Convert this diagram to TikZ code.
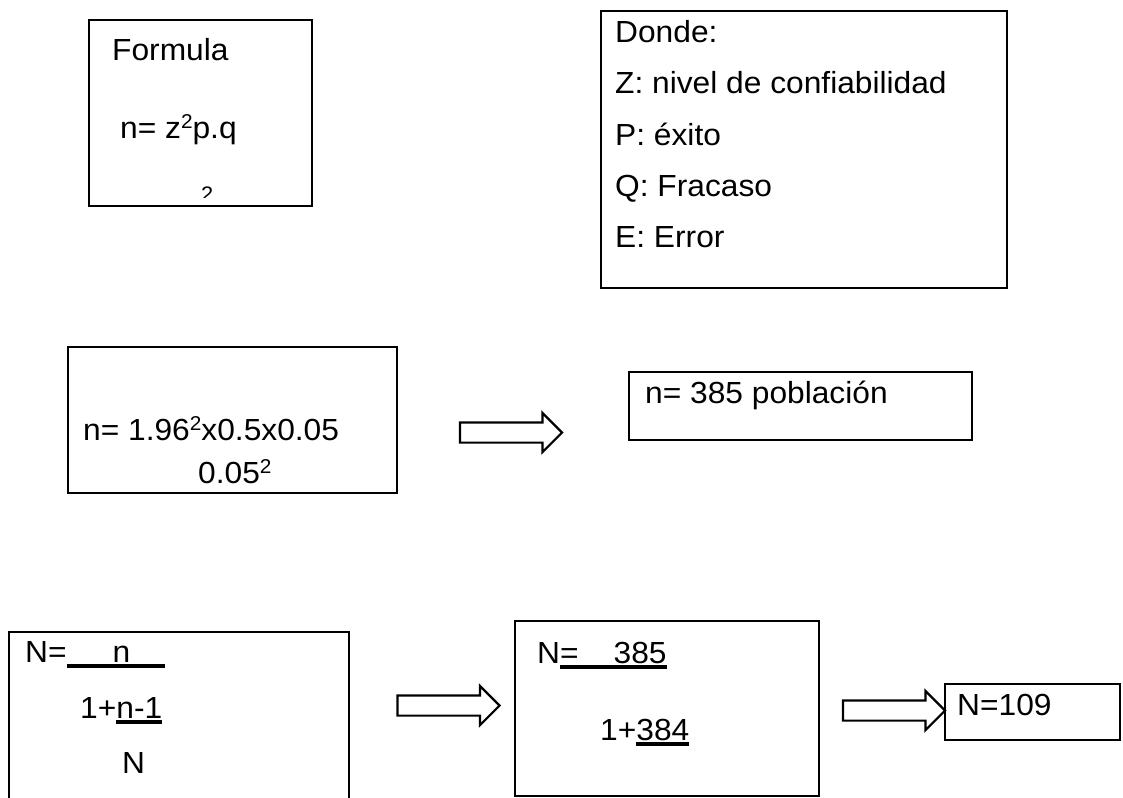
\documentclass[tikz,border=0pt]{standalone}
\usepackage{fontspec}
\setmainfont{Liberation Sans}[FakeStretch=1.04]
\usetikzlibrary{shapes.arrows}

\newlength\ulwd
\newcommand\ulbar[1]{\settowidth\ulwd{#1}\rlap{\rule[-5.5bp]{\ulwd}{3.3bp}}#1}
\newcommand\sqr[1]{\raisebox{10bp}{\fontsize{20bp}{20bp}\selectfont #1}}

\begin{document}
\begin{tikzpicture}[
    x=1bp, y=-1bp,
    box/.style={rectangle, draw, line width=2.6bp, inner sep=0pt},
    txt/.style={anchor=base west, inner sep=0pt, font=\fontsize{30.5bp}{36bp}\selectfont},
    fatarrow/.style={
        single arrow, draw, line width=2.2bp, inner xsep=0pt, inner ysep=9bp,
        minimum height=102bp, single arrow head extend=9.5bp
    }
]

% Page
\clip (0,0) rectangle (1123,798);

% Formula
\node[box, minimum width=223bp, minimum height=186bp] (fbox) at (200.5,113) {};
\node[txt] (ftitle) at (112,61) {Formula};
\node[txt] (fexpr) at (120,138) {n= z\sqr{2}p.q};
\begin{scope}
    \clip (190,178) rectangle (230,197);
    \node[txt, font=\fontsize{21bp}{24bp}\selectfont] (fsq) at (201,201) {2};
\end{scope}

% Donde
\node[box, minimum width=406bp, minimum height=277bp] (dbox) at (804,149.5) {};
\node[txt] (dhead) at (615,43) {Donde:};
\node[txt] (dz) at (615,94) {Z: nivel de confiabilidad};
\node[txt] (dp) at (615,145) {P: éxito};
\node[txt] (dq) at (615,196) {Q: Fracaso};
\node[txt] (de) at (615,247) {E: Error};

% Sample size
\node[box, minimum width=329bp, minimum height=146bp] (nbox) at (232.5,420) {};
\node[txt] (nnum) at (83,440) {n= 1.96\sqr{2}x0.5x0.05};
\node[txt] (nden) at (198,483) {0.05\sqr{2}};
\node[fatarrow] (arr1) at (506,432.5) {};
\node[box, minimum width=343bp, minimum height=68bp] (rbox) at (800.5,406) {};
\node[txt] (rtxt) at (645,403) {n= 385 población};

% Correction
\node[box, minimum width=340bp, minimum height=180bp] (cbox) at (179,722) {};
\node[txt] (cnum) at (25,662) {N=\ulbar{\hspace*{46bp}n\hspace*{35bp}}};
\node[txt] (cden) at (80,718) {1+\ulbar{n-1}};
\node[txt] (cN) at (122,773) {N};
\node[fatarrow] (arr2) at (443.5,705.5) {};
\node[box, minimum width=304bp, minimum height=175bp] (vbox) at (667,708.5) {};
\node[txt] (vnum) at (537,663) {N\ulbar{=\hspace*{35bp}385}};
\node[txt] (vden) at (600,740) {1+\ulbar{384}};
\node[fatarrow] (arr3) at (889,710.5) {};
\node[box, minimum width=175bp, minimum height=56bp] (fin) at (1032.5,712) {};
\node[txt] (fintxt) at (957,715) {N=109};

\end{tikzpicture}
\end{document}
